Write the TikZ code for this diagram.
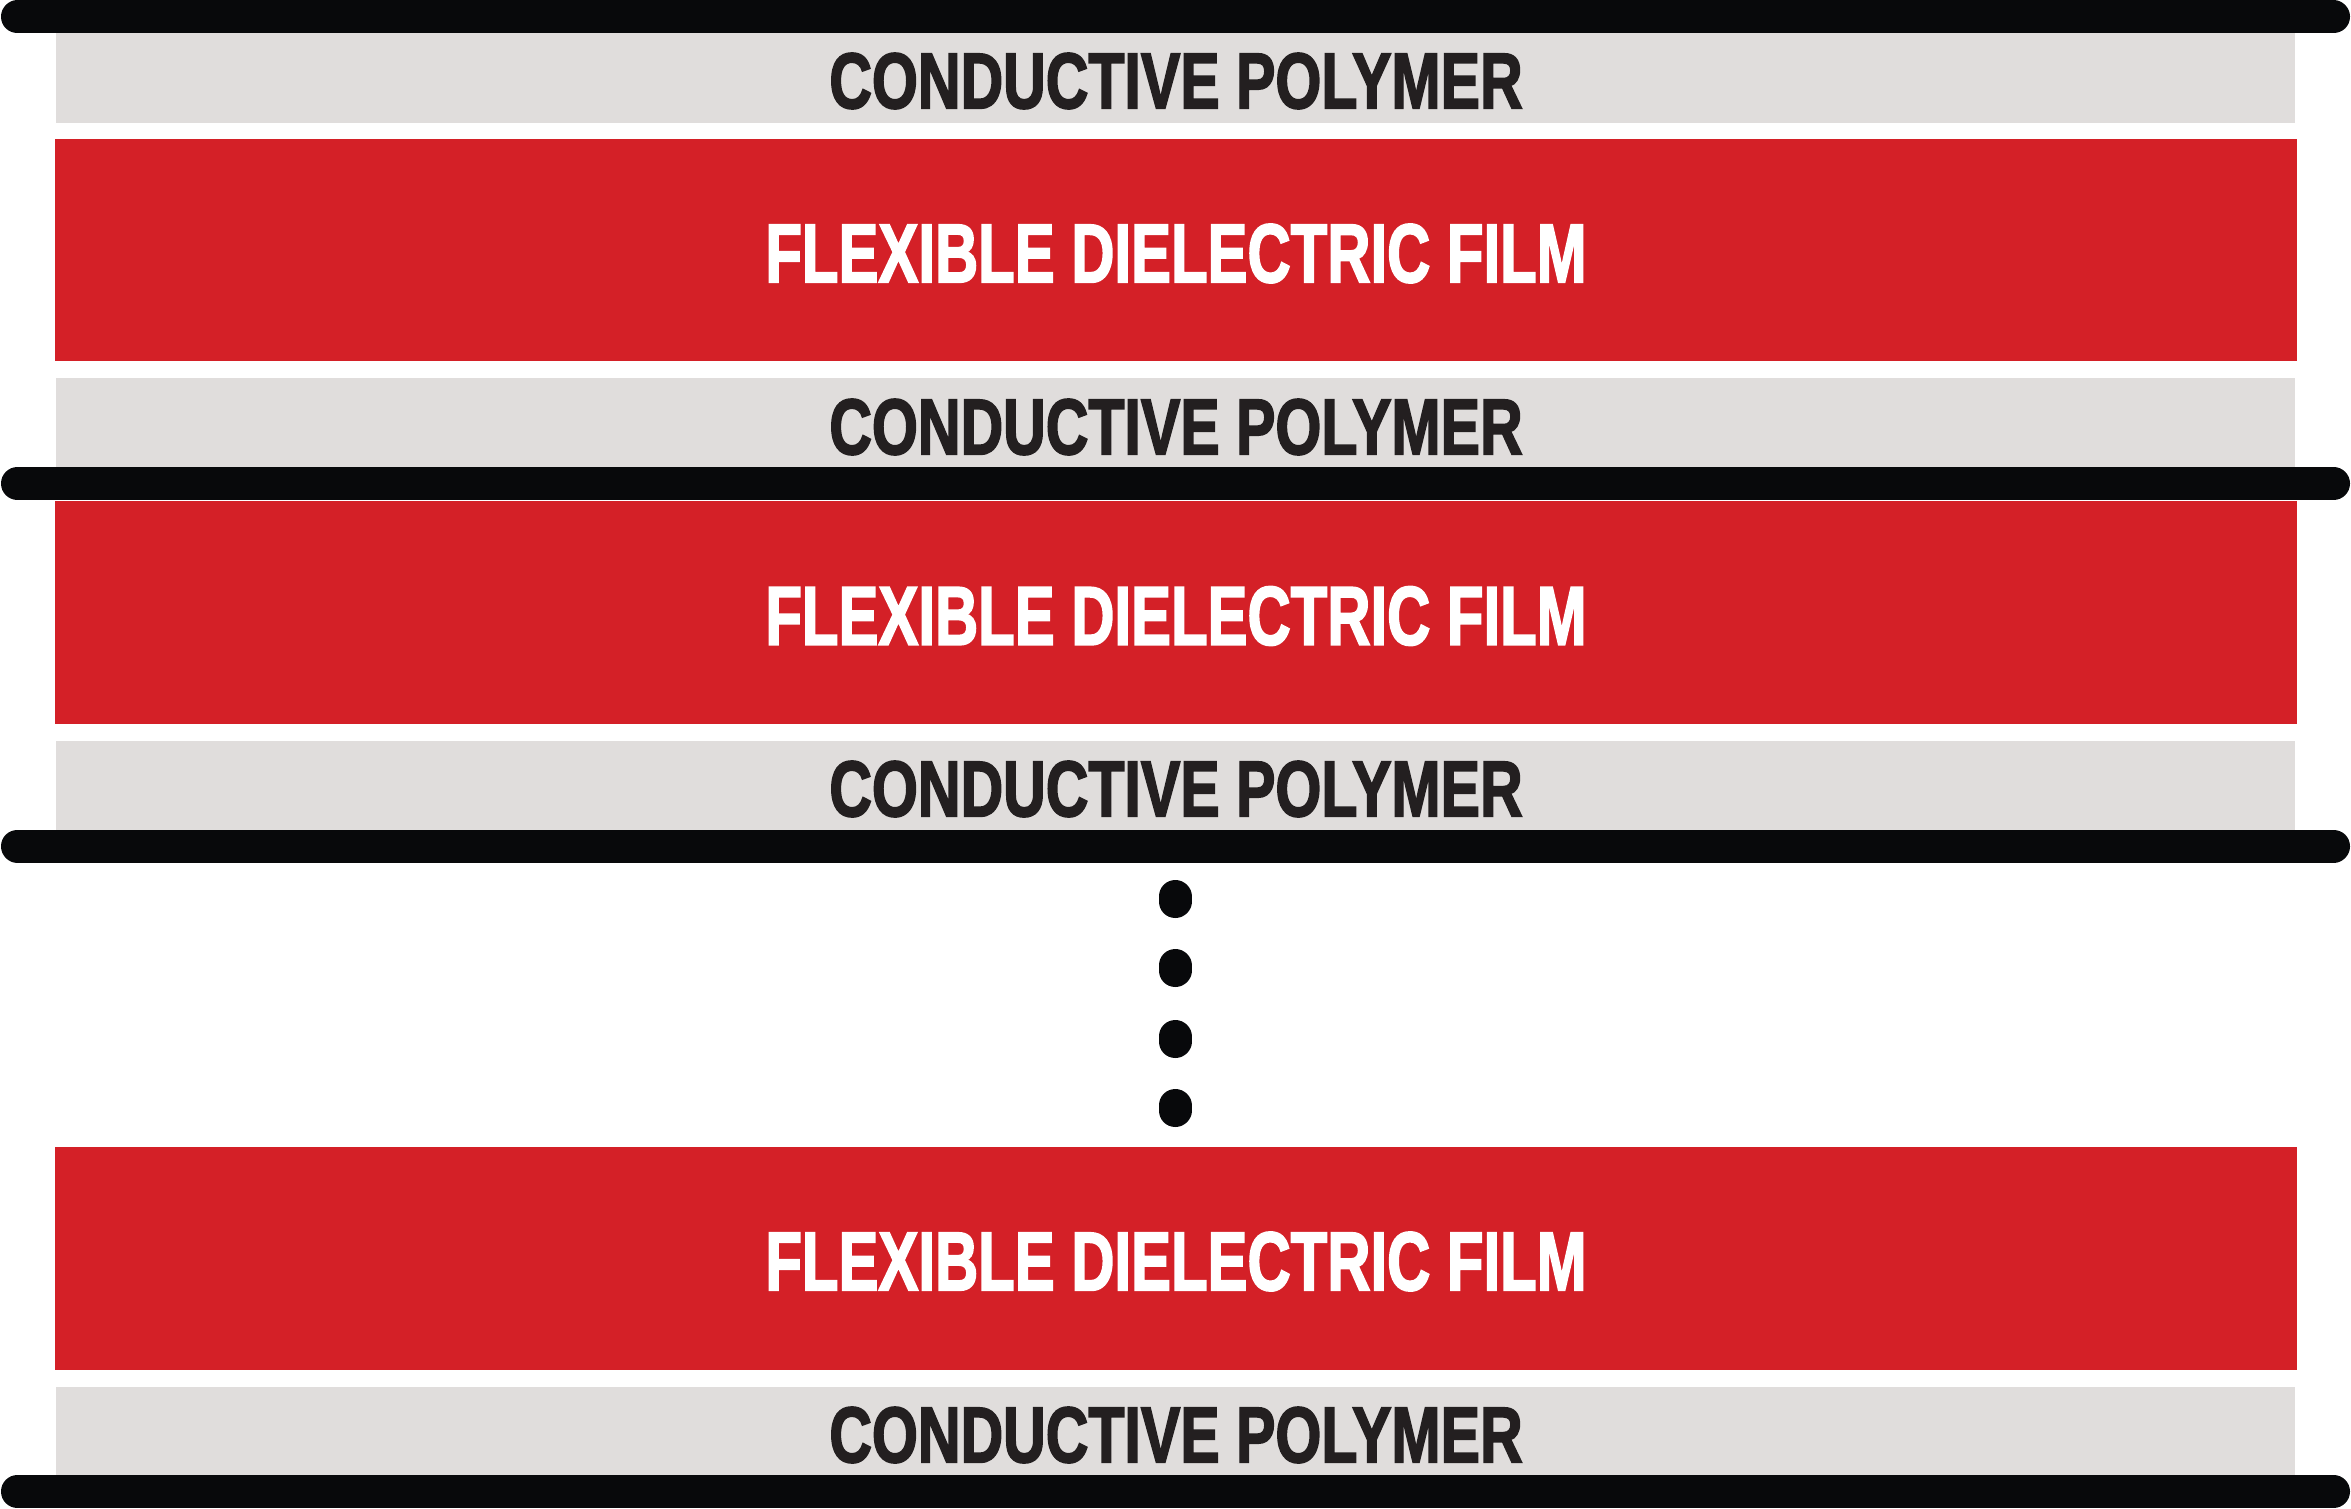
\documentclass[tikz,border=0pt]{standalone}
\usepackage{fontspec}
\setmainfont{Liberation Sans}
\newfontfamily\heavyfont[FakeBold=2.5]{Liberation Sans Bold}
\definecolor{filmred}{HTML}{D42027}
\definecolor{polygray}{HTML}{E0DDDC}
\definecolor{barblack}{HTML}{08090B}
\definecolor{polytext}{HTML}{231F20}
\begin{document}
\begin{tikzpicture}[x=1pt,y=-1pt,
  graylayer/.style={fill=polygray},
  redlayer/.style={fill=filmred},
  electrode/.style={draw=barblack, line width=33pt, line cap=round},
  dotmark/.style={draw=barblack, line width=33pt, line cap=round},
  polylabel/.style={inner sep=0pt, outer sep=0pt, text=polytext, anchor=center},
  filmlabel/.style={inner sep=0pt, outer sep=0pt, text=white, anchor=center}]
\useasboundingbox (0,0) rectangle (2351,1509);
\fill[white] (0,0) rectangle (2351,1509);
% layers
\fill[graylayer] (56,33) rectangle (2295,123);
\fill[redlayer] (55,139) rectangle (2297,361);
\fill[graylayer] (56,378) rectangle (2295,467);
\fill[redlayer] (55,501) rectangle (2297,724);
\fill[graylayer] (56,741) rectangle (2295,830);
\fill[redlayer] (55,1147) rectangle (2297,1370);
\fill[graylayer] (56,1387) rectangle (2295,1476);
% electrodes
\coordinate (e1a) at (17.5,17); \coordinate (e1b) at (2333.5,17);
\coordinate (e2a) at (17.5,483.5); \coordinate (e2b) at (2333.5,483.5);
\coordinate (e3a) at (17.5,846); \coordinate (e3b) at (2333.5,846);
\coordinate (e4a) at (17.5,1491.5); \coordinate (e4b) at (2333.5,1491.5);
\draw[electrode] (e1a) -- (e1b);
\draw[electrode] (e2a) -- (e2b);
\draw[electrode] (e3a) -- (e3b);
\draw[electrode] (e4a) -- (e4b);
% dots
\foreach \yy in {899,968,1039,1108}{
  \draw[dotmark] (1175,\yy-2.5) -- (1175,\yy+2.5);
}
% labels
\node[polylabel] (c1) at (1176,81) {\resizebox{693pt}{55pt}{\heavyfont CONDUCTIVE POLYMER}};
\node[filmlabel] (f1) at (1176,253.5) {\resizebox{821pt}{58pt}{\heavyfont FLEXIBLE DIELECTRIC FILM}};
\node[polylabel] (c2) at (1176,427) {\resizebox{693pt}{55pt}{\heavyfont CONDUCTIVE POLYMER}};
\node[filmlabel] (f2) at (1176,616) {\resizebox{821pt}{58pt}{\heavyfont FLEXIBLE DIELECTRIC FILM}};
\node[polylabel] (c3) at (1176,789) {\resizebox{693pt}{55pt}{\heavyfont CONDUCTIVE POLYMER}};
\node[filmlabel] (f3) at (1176,1261.5) {\resizebox{821pt}{58pt}{\heavyfont FLEXIBLE DIELECTRIC FILM}};
\node[polylabel] (c4) at (1176,1435) {\resizebox{693pt}{55pt}{\heavyfont CONDUCTIVE POLYMER}};
\end{tikzpicture}
\end{document}
